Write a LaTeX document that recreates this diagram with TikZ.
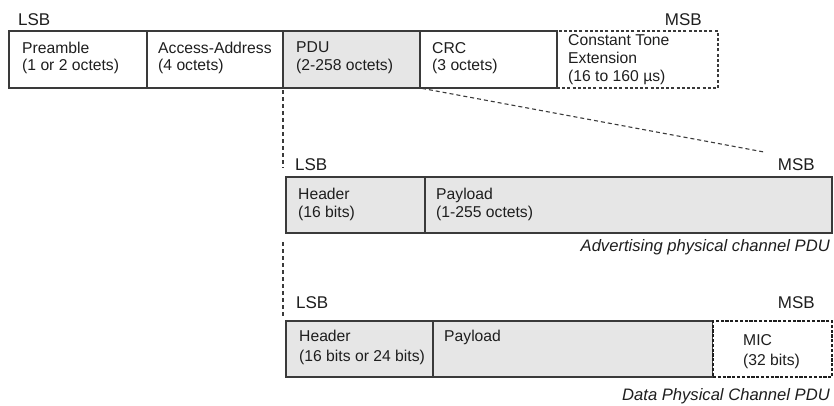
\documentclass[tikz,border=0pt]{standalone}
\usepackage{fontspec}
\setmainfont{Liberation Sans}
\definecolor{edge}{HTML}{3A3A3A}
\definecolor{shade}{HTML}{E6E6E6}
\definecolor{ink}{HTML}{1E1E1E}
\tikzset{
  cell/.style={draw=edge, line width=1.2pt, rectangle, inner sep=0pt, outer sep=0pt, anchor=north west},
  grey/.style={fill=shade},
  ctebox/.style={cell, dash pattern=on 3pt off 2.2pt},
  micbox/.style={cell, draw=ink, line width=2pt, dash pattern=on 3.2pt off 1.6pt},
  txt/.style={inner sep=0pt, anchor=north west, align=left, text=ink, font=\fontsize{15.7}{17.5}\selectfont},
  txtwide/.style={txt, font=\fontsize{15.7}{18}\selectfont},
  txtbig/.style={txt, font=\fontsize{15.7}{20}\selectfont},
  bitlbl/.style={inner sep=0pt, text=ink, font=\fontsize{17}{20}\selectfont},
  caption/.style={inner sep=0pt, anchor=base east, text=ink, font=\fontsize{16.6}{20}\selectfont\itshape},
  conn/.style={draw=edge, line width=1.1pt, dash pattern=on 4pt off 3pt}
}
\begin{document}
\begin{tikzpicture}[x=1pt,y=-1pt]
\useasboundingbox (0,0) rectangle (834,405);

% top row
\node[cell, minimum width=138pt, minimum height=57pt] (pre) at (9,31) {};
\node[cell, minimum width=136pt, minimum height=57pt] (acc) at (147,31) {};
\node[cell, grey, minimum width=137pt, minimum height=57pt] (pdu) at (283,31) {};
\node[ctebox, minimum width=161pt, minimum height=57pt] (cte) at (557,31) {};
\node[cell, minimum width=137pt, minimum height=57pt] (crc) at (420,31) {};

\node[txt] (tpre) at (22,41.9) {Preamble\\(1 or 2 octets)};
\node[txt] (tacc) at (158,41.9) {Access-Address\\(4 octets)};
\node[txt] (tpdu) at (296,41.9) {PDU\\(2-258 octets)};
\node[txt] (tcrc) at (432,41.9) {CRC\\(3 octets)};
\node[txtwide] (tcte) at (568,34.6) {Constant Tone\\Extension\\(16 to 160 µs)};

\node[bitlbl, anchor=base west] (lsb1) at (18,25) {LSB};
\node[bitlbl, anchor=base east] (msb1) at (702,25) {MSB};

% middle row
\node[cell, grey, minimum width=139pt, minimum height=56pt] (ahdr) at (286,177) {};
\node[cell, grey, minimum width=407pt, minimum height=56pt] (apay) at (425,177) {};
\node[txtwide] (tahdr) at (298,187.6) {Header\\(16 bits)};
\node[txtwide] (tapay) at (436,187.6) {Payload\\(1-255 octets)};
\node[bitlbl, anchor=base west] (lsb2) at (295,170) {LSB};
\node[bitlbl, anchor=base east] (msb2) at (815,170) {MSB};
\node[caption] (cap1) at (830,251) {Advertising physical channel PDU};

% bottom row
\node[cell, grey, minimum width=147pt, minimum height=56pt] (dhdr) at (286,321) {};
\node[cell, grey, minimum width=280pt, minimum height=56pt] (dpay) at (433,321) {};
\node[micbox, fill=white, minimum width=119pt, minimum height=56pt] (mic) at (713,321) {};
\node[txtbig] (tdhdr) at (299,330) {Header\\(16 bits or 24 bits)};
\node[txtbig] (tdpay) at (444,330) {Payload};
\node[txtbig] (tmic) at (743,334.6) {MIC\\(32 bits)};
\node[bitlbl, anchor=base west] (lsb3) at (296,308) {LSB};
\node[bitlbl, anchor=base east] (msb3) at (815,308) {MSB};
\node[caption] (cap2) at (830,400) {Data Physical Channel PDU};

% connectors
\coordinate (v1) at (283,168);
\coordinate (v2a) at (283,242);
\coordinate (v2b) at (283,318);
\coordinate (dg) at (764,152);
\draw[conn, shorten <=2pt] (pdu.south west) -- (v1);
\draw[conn] (v2a) -- (v2b);
\draw[conn, shorten <=2pt] (pdu.south east) -- (dg);
\end{tikzpicture}
\end{document}
